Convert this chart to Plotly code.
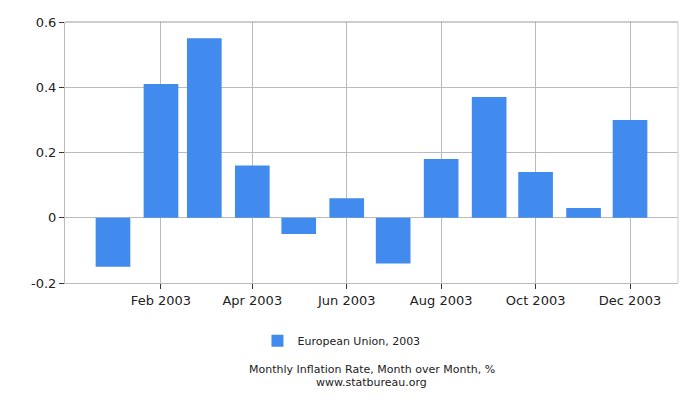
import plotly.graph_objects as go

months = ["2003-01-01", "2003-02-01", "2003-03-01", "2003-04-01", "2003-05-01", "2003-06-01",
          "2003-07-01", "2003-08-01", "2003-09-01", "2003-10-01", "2003-11-01", "2003-12-01"]
values = [-0.15, 0.41, 0.55, 0.16, -0.05, 0.06, -0.14, 0.18, 0.37, 0.14, 0.03, 0.30]
series_name = "European Union, 2003"
x_tick_dates = ["2003-02-01", "2003-04-01", "2003-06-01", "2003-08-01", "2003-10-01", "2003-12-01"]
x_tick_labels = ["Feb 2003", "Apr 2003", "Jun 2003", "Aug 2003", "Oct 2003", "Dec 2003"]
y_ticks = [-0.2, 0, 0.2, 0.4, 0.6]
y_tick_labels = ["-0.2", "0", "0.2", "0.4", "0.6"]

fig = go.Figure()
fig.add_trace(go.Bar(x=months, y=values, name=series_name, marker_color="#428bee",
                     marker_line_width=0, showlegend=True))

font_family = "DejaVu Sans, Verdana, sans-serif"
fig.update_layout(
    width=684, height=384,
    margin=dict(l=57, r=14, t=14, b=109, autoexpand=False),
    paper_bgcolor="white", plot_bgcolor="white",
    bargap=0.2,
    font=dict(family=font_family, size=13, color="#222"),
    showlegend=True,
    legend=dict(orientation="h", x=0.451, xanchor="center", y=-0.221, yanchor="middle",
                font=dict(size=11, color="#222"), itemwidth=30),
    xaxis=dict(type="date", range=["2002-12-01", "2004-01-01"], automargin=False,
               tickmode="array", tickvals=x_tick_dates, ticktext=x_tick_labels,
               showgrid=True, gridcolor="#bbbbbb", gridwidth=1,
               ticks="outside", ticklen=5, tickcolor="#333", showline=True, linecolor="#bbbbbb",
               mirror=False, zeroline=False, tickfont=dict(size=13)),
    yaxis=dict(range=[-0.2, 0.6], tickvals=y_ticks, ticktext=y_tick_labels, showgrid=True,
               automargin=False,
               gridcolor="#bbbbbb", gridwidth=1, ticks="outside", ticklen=5, tickcolor="#333",
               showline=True, linecolor="#bbbbbb", zeroline=True, zerolinecolor="#bbbbbb",
               zerolinewidth=1, tickfont=dict(size=13)),
    shapes=[
        dict(type="line", xref="paper", yref="paper", x0=0, x1=1, y0=1, y1=1,
             line=dict(color="#999999", width=1)),
        dict(type="line", xref="paper", yref="paper", x0=1, x1=1, y0=0, y1=1,
             line=dict(color="#cccccc", width=1)),
    ],
    annotations=[
        dict(text="Monthly Inflation Rate, Month over Month, %",
             xref="paper", yref="paper", x=0.5, y=-0.333, xanchor="center", yanchor="middle",
             showarrow=False, font=dict(size=11, color="#222")),
        dict(text="www.statbureau.org",
             xref="paper", yref="paper", x=0.5, y=-0.380, xanchor="center", yanchor="middle",
             showarrow=False, font=dict(size=11, color="#222")),
    ],
)

fig.write_html("out.html")
